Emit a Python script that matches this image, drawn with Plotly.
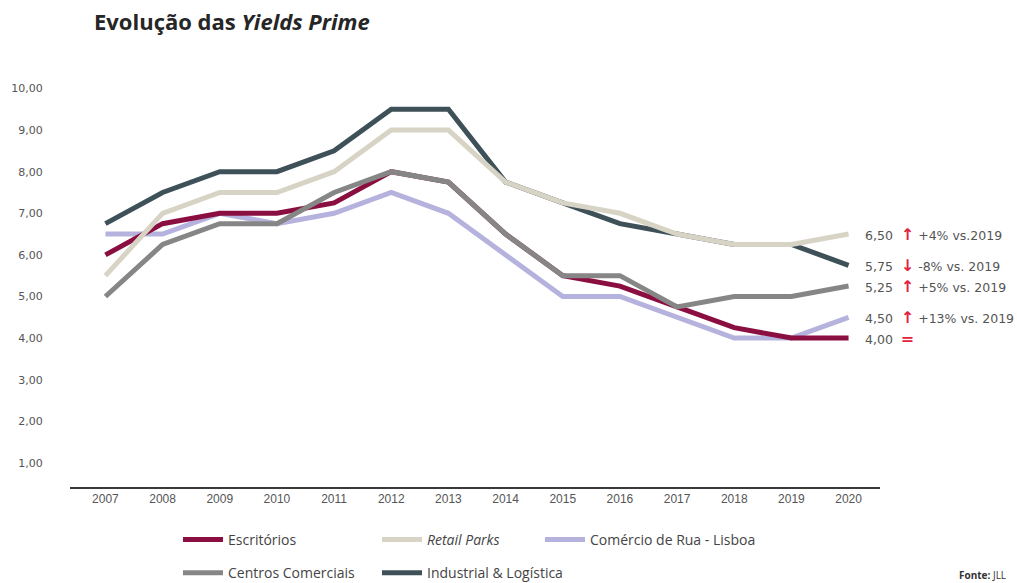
import plotly.graph_objects as go

# Prime yields by segment (%), 2007-2020
years = list(range(2007, 2021))

escritorios = [6.00, 6.75, 7.00, 7.00, 7.25, 8.00, 7.75, 6.50, 5.50, 5.25, 4.75, 4.25, 4.00, 4.00]
retail_parks = [5.50, 7.00, 7.50, 7.50, 8.00, 9.00, 9.00, 7.75, 7.25, 7.00, 6.50, 6.25, 6.25, 6.50]
comercio_rua = [6.50, 6.50, 7.00, 6.75, 7.00, 7.50, 7.00, 6.00, 5.00, 5.00, 4.50, 4.00, 4.00, 4.50]
centros_comerciais = [5.00, 6.25, 6.75, 6.75, 7.50, 8.00, 7.75, 6.50, 5.50, 5.50, 4.75, 5.00, 5.00, 5.25]
industrial = [6.75, 7.50, 8.00, 8.00, 8.50, 9.50, 9.50, 7.75, 7.25, 6.75, 6.50, 6.25, 6.25, 5.75]

y_ticks = [1, 2, 3, 4, 5, 6, 7, 8, 9, 10]
y_tick_labels = ["1,00", "2,00", "3,00", "4,00", "5,00", "6,00", "7,00", "8,00", "9,00", "10,00"]

# Change vs. previous year shown next to the 2020 values
change_labels = {
    "retail": ("↑", "+4% vs.2019"),
    "industrial": ("↓", "-8% vs. 2019"),
    "centros": ("↑", "+5% vs. 2019"),
    "comercio": ("↑", "+13% vs. 2019"),
    "escritorios": ("=", ""),
}

colors = {
    "escritorios": "#8a0f40",
    "retail": "#d8d4c5",
    "comercio": "#b5b3dd",
    "centros": "#868686",
    "industrial": "#3e5058",
}

series = {
    "escritorios": ("Escritórios", escritorios, "legend", 1),
    "retail": ("<i>Retail Parks</i>", retail_parks, "legend2", 1),
    "comercio": ("Comércio de Rua - Lisboa", comercio_rua, "legend3", 1),
    "centros": ("Centros Comerciais", centros_comerciais, "legend", 2),
    "industrial": ("Industrial &amp; Logística", industrial, "legend2", 2),
}

# drawing order (later traces on top)
draw_order = ["comercio", "escritorios", "centros", "industrial", "retail"]

fig = go.Figure()
for key in draw_order:
    name, values, legend_id, rank = series[key]
    fig.add_trace(go.Scatter(
        x=years, y=values, name=name, mode="lines",
        line=dict(color=colors[key], width=5),
        legend=legend_id, legendrank=rank, legendgroup=key,
        hoverinfo="skip",
    ))

# value + change labels at the end of each line
for key in ["retail", "industrial", "centros", "comercio", "escritorios"]:
    _, values, _, _ = series[key]
    last = values[-1]
    arrow, txt = change_labels[key]
    val_txt = f"{last:.2f}".replace(".", ",")
    fig.add_annotation(
        x=years[-1], y=last, xref="x", yref="y",
        text=(f"{val_txt}  <span style='color:#e2233d;font-size:16px;font-weight:bold'>{arrow}</span>"
              f" {txt}"),
        showarrow=False, xanchor="left", yanchor="middle", xshift=14,
        font=dict(family="DejaVu Sans", size=12.5, color="#555555"),
    )

fig.add_annotation(
    x=1.158, y=-0.215, xref="paper", yref="paper",
    text="<b>Fonte:</b> JLL", showarrow=False, xanchor="right", yanchor="middle",
    font=dict(family="Open Sans", size=10, color="#333333"),
)

legend_common = dict(
    orientation="v", xref="container", yref="container",
    xanchor="left", yanchor="top", bgcolor="rgba(0,0,0,0)",
    font=dict(family="Open Sans", size=14, color="#444444"),
    tracegroupgap=12, itemwidth=40,
)

fig.update_layout(
    width=1018, height=583,
    margin=dict(l=70, r=138, t=76, b=96, autoexpand=False),
    paper_bgcolor="white", plot_bgcolor="white",
    title=dict(
        text="<b>Evolução das <i>Yields Prime</i></b>",
        xref="container", x=94 / 1018, xanchor="left",
        yref="container", y=1 - 22 / 583, yanchor="middle",
        font=dict(family="Open Sans", size=22, color="#262626"),
    ),
    showlegend=True,
    legend=dict(legend_common, x=178 / 1018, y=1 - 524 / 583),
    legend2=dict(legend_common, x=377 / 1018, y=1 - 524 / 583),
    legend3=dict(legend_common, x=540 / 1018, y=1 - 524 / 583),
    xaxis=dict(
        range=[2006.38, 2020.55], tickmode="array", tickvals=years,
        ticktext=[str(y) for y in years],
        showline=True, linecolor="#3a3a3a", linewidth=1.5,
        showgrid=False, zeroline=False, ticks="",
        tickfont=dict(family="Liberation Sans", size=12, color="#555555"),
    ),
    yaxis=dict(
        range=[0.42, 10.3], tickmode="array", tickvals=y_ticks, ticktext=y_tick_labels,
        showline=False, showgrid=False, zeroline=False,
        ticks="outside", ticklen=24, tickcolor="rgba(0,0,0,0)",
        tickfont=dict(family="DejaVu Sans", size=11, color="#555555"),
    ),
)

fig.write_html("out.html")
